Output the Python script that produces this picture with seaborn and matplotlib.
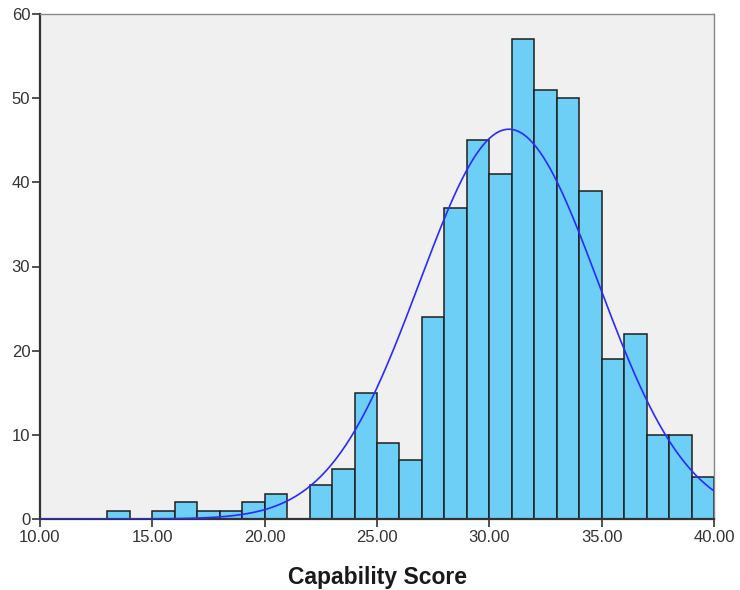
import numpy as np
import pandas as pd
import matplotlib
matplotlib.use('Agg')
import matplotlib.pyplot as plt
import seaborn as sns

# bin counts (bins of width 1, from 10 to 40)
bin_left = list(range(10, 40))
counts = [0, 0, 0, 1, 0, 1, 2, 1, 1, 2,
          3, 0, 4, 6, 15, 9, 7, 24, 37, 45,
          41, 57, 51, 50, 39, 19, 22, 10, 10, 5]

# fitted normal curve parameters
curve_mean = 30.87
curve_sd = 3.98

x_ticks = [10, 15, 20, 25, 30, 35, 40]
x_tick_labels = ['10.00', '15.00', '20.00', '25.00', '30.00', '35.00', '40.00']
y_ticks = [0, 10, 20, 30, 40, 50, 60]

sns.set_style('white')
plt.rcParams['font.family'] = ['Arial', 'Liberation Sans', 'DejaVu Sans']

df = pd.DataFrame({'score': [b + 0.5 for b in bin_left], 'count': counts})

fig = plt.figure(figsize=(7.4, 5.9), dpi=100)
ax = fig.add_axes([40 / 740, 1 - 519 / 590, (714 - 40) / 740, (519 - 14) / 590])
ax.set_facecolor('#f0f0f0')

sns.histplot(data=df, x='score', weights='count', binwidth=1, binrange=(10, 40),
             color='#6dcff6', edgecolor='#1e1e1e', linewidth=1.1, alpha=1.0, ax=ax)

# normal curve scaled to counts
n_total = sum(counts)
xs = np.linspace(10, 40, 400)
ys = n_total * 1.0 / (curve_sd * np.sqrt(2 * np.pi)) * np.exp(-0.5 * ((xs - curve_mean) / curve_sd) ** 2)
sns.lineplot(x=xs, y=ys, color='#2a2aff', linewidth=1.2, ax=ax, zorder=3)

ax.set_xlim(10, 40)
ax.set_ylim(0, 60)
ax.set_xticks(x_ticks)
ax.set_xticklabels(x_tick_labels)
ax.set_yticks(y_ticks)
ax.tick_params(axis='both', direction='out', length=6, width=1.2, color='#333333',
               labelsize=12, labelcolor='#333333', pad=2, bottom=True, left=True)
ax.tick_params(axis='y', pad=1)

for side in ['top', 'right']:
    ax.spines[side].set_color('#888888')
    ax.spines[side].set_linewidth(1.0)
for side in ['left', 'bottom']:
    ax.spines[side].set_color('#333333')
    ax.spines[side].set_linewidth(1.6)

ax.set_xlabel('Capability Score', fontsize=16.5, fontweight='bold', labelpad=15,
              color='#1a1a1a')
ax.set_ylabel('')

fig.savefig('out.png', dpi=100)
